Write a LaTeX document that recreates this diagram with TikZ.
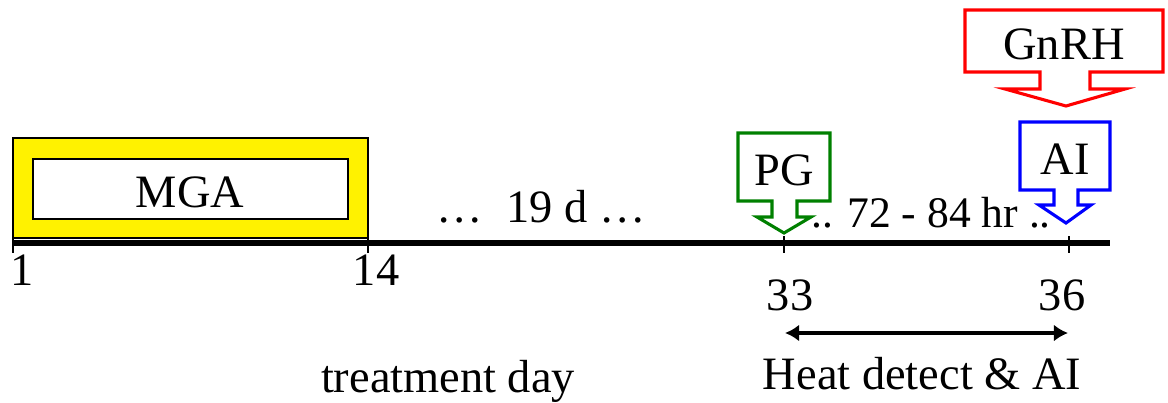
\documentclass[tikz,border=0pt]{standalone}
\usepackage{fontspec}
\setmainfont{Liberation Serif}
\usetikzlibrary{arrows.meta}
\definecolor{pggreen}{RGB}{0,128,0}
\begin{document}
\begin{tikzpicture}[x=0.025cm, y=-0.025cm,
    lbl/.style={font=\fontsize{33}{40}\selectfont, inner sep=0pt, anchor=base},
    callout/.style={line width=2.2pt, fill=white, line join=miter}]
    \useasboundingbox (0,0) rectangle (1168,402);
    % MGA box
    \draw[fill=yellow, line width=1.4pt] (13,138) rectangle (368,238);
    \draw[fill=white, line width=1.4pt] (33,159) rectangle (348,219);
    \node[lbl] (mga) at (190,207) {MGA};
    % time line
    \draw[line width=4pt] (12,243) -- (1110,243);
    \foreach \x in {13,368,784,1069}
        \draw[line width=1.5pt] (\x,236) -- (\x,253);
    \node[lbl] (d1) at (22,285) {1};
    \node[lbl] (d14) at (376,285) {14};
    \node[lbl] (d33) at (790,310) {33};
    \node[lbl] (d36) at (1062,310) {36};
    \node[lbl] (gap) at (541,222) {…\ \ 19 d …};
    % callouts
    \draw[callout, draw=pggreen] (738,133) -- (830,133) -- (830,201) -- (797,201) -- (797,217)
        -- (811,217) -- (784,233) -- (757,217) -- (772,217) -- (772,201) -- (738,201) -- cycle;
    \node[lbl] (pg) at (784,185) {PG};
    \draw[callout, draw=blue] (1020,122) -- (1110,122) -- (1110,190) -- (1078,190) -- (1078,205)
        -- (1091,205) -- (1066,223) -- (1039,205) -- (1054,205) -- (1054,190) -- (1020,190) -- cycle;
    \node[lbl] (ai) at (1065,174) {AI};
    \draw[callout, draw=red] (965,10) -- (1163,10) -- (1163,72) -- (1090,72) -- (1090,89)
        -- (1125,89) -- (1066,106) -- (1005,89) -- (1040,89) -- (1040,72) -- (965,72) -- cycle;
    \node[lbl] (gnrh) at (1064,59) {GnRH};
    \node[lbl, font=\fontsize{31}{40}\selectfont] (hrs) at (931,227) {.. 72 - 84 hr ..};
    % heat detection window
    \coordinate (hd1) at (785,333);
    \coordinate (hd2) at (1068,333);
    \draw[line width=3.4pt, {Latex[length=10pt,width=12pt]}-{Latex[length=10pt,width=12pt]}] (hd1) -- (hd2);
    \node[lbl] (heat) at (922,389) {Heat detect \& AI};
    \node[lbl] (tday) at (448,392) {treatment day};
\end{tikzpicture}
\end{document}
